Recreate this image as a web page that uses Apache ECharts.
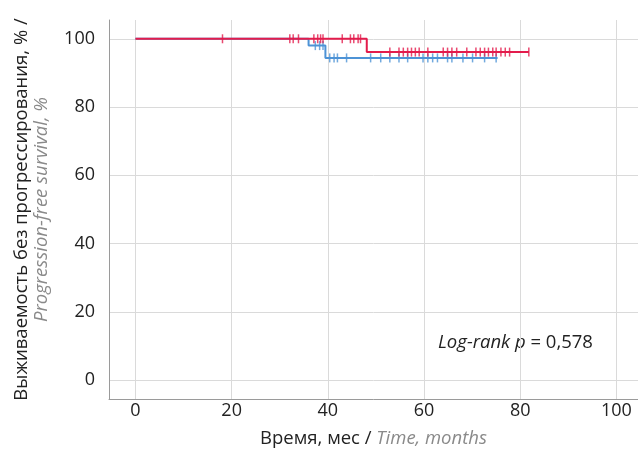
<!DOCTYPE html>
<html>
<head>
<meta charset="utf-8">
<script src="https://cdn.jsdelivr.net/npm/echarts@6/dist/echarts.min.js"></script>
<style>
  html, body { margin: 0; padding: 0; background: #fff; }
  #chart { width: 638px; height: 450px; }
</style>
</head>
<body>
<div id="chart"></div>
<script>
// KM curve, group 1 (red): step times and survival levels
const redTimes = [0, 48.1, 81.8];
const redSurv = [100, 96.1, 96.1];
const redCensored = [18.1, 32.1, 32.8, 33.9, 37.1, 37.9, 38.5, 39.0, 43.0, 44.7, 45.4, 46.3, 46.8,
  52.9, 54.8, 55.7, 56.6, 57.4, 58.2, 59.0, 60.8, 64.0, 64.9, 65.8, 66.8, 68.9, 70.8, 71.7,
  72.6, 73.4, 74.3, 75.0, 76.0, 76.9, 77.8, 81.8];

// KM curve, group 2 (blue)
const blueTimes = [0, 36.0, 39.5, 75.3];
const blueSurv = [100, 98.0, 94.4, 94.4];
const blueCensored = [37.4, 38.3, 39.0, 40.4, 41.3, 42.0, 43.9, 48.9, 51.0, 52.9, 54.8, 56.6,
  59.8, 60.8, 61.8, 62.8, 64.9, 65.8, 68.1, 70.1, 72.6, 75.0];

const xTicks = [0, 20, 40, 60, 80, 100];
const yTicks = [0, 20, 40, 60, 80, 100];

const RED = '#e31c4c';
const BLUE = '#4d93d6';
const GRID = '#dadada';

function curve(times, surv) {
  return times.map((t, i) => [t, surv[i]]);
}
// survival level at time t (for placing censor marks on the curve)
function levelAt(times, surv, t) {
  let v = surv[0];
  for (let i = 0; i < times.length; i++) {
    if (times[i] <= t) v = surv[i];
  }
  return v;
}
function marks(times, surv, cens) {
  return cens.map(t => [t, levelAt(times, surv, t)]);
}

const FONT = 'Open Sans';
let myChart = echarts.init(document.getElementById('chart'));
myChart.setOption({
  animation: false,
  textStyle: { fontFamily: FONT },
  grid: { left: 109, right: 0, top: 20, bottom: 51, containLabel: false, outerBoundsMode: 'none' },
  xAxis: {
    type: 'value',
    min: -5.5,
    max: 104.5,
    splitNumber: 5,
    name: '{a|Время, мес / }{b|Time, months}',
    nameLocation: 'middle',
    nameGap: 30,
    nameTextStyle: {
      rich: {
        a: { fontFamily: FONT, fontSize: 18.5, color: '#222' },
        b: { fontFamily: FONT, fontSize: 18.5, color: '#8a8a8a', fontStyle: 'italic' }
      }
    },
    axisLine: { onZero: false, lineStyle: { color: '#9a9a9a', width: 1 } },
    axisTick: { show: false },
    axisLabel: {
      color: '#222', fontSize: 18, margin: 3,
      formatter: v => (xTicks.indexOf(v) >= 0 ? String(v) : '')
    },
    splitLine: { show: true, lineStyle: { color: GRID, width: 1 } }
  },
  yAxis: {
    type: 'value',
    min: -5.5,
    max: 105.5,
    splitNumber: 5,
    name: '{a|Выживаемость без прогрессирования, % /}\n{b|Progression-free survival, %}',
    nameLocation: 'middle',
    nameRotate: 90,
    nameGap: 57,
    nameTextStyle: {
      lineHeight: 20,
      rich: {
        a: { fontFamily: FONT, fontSize: 18.5, color: '#222', lineHeight: 20 },
        b: { fontFamily: FONT, fontSize: 18.5, color: '#8a8a8a', fontStyle: 'italic', lineHeight: 20 }
      }
    },
    axisLine: { show: true, onZero: false, lineStyle: { color: '#9a9a9a', width: 1 } },
    axisTick: { show: false },
    axisLabel: {
      color: '#222', fontSize: 18, margin: 14,
      formatter: v => (yTicks.indexOf(v) >= 0 ? String(v) : '')
    },
    // last line (top edge of the plot) is left invisible
    splitLine: { show: true, lineStyle: { color: [GRID, GRID, GRID, GRID, GRID, GRID, GRID, 'rgba(0,0,0,0)'], width: 1 } }
  },
  graphic: [{
    type: 'text',
    left: 438,
    top: 333,
    style: {
      text: '{i|Log-rank p} = 0,578',
      fontFamily: FONT,
      fontSize: 18.5,
      fill: '#222',
      rich: { i: { fontFamily: FONT, fontSize: 18.5, fontStyle: 'italic', fill: '#222' } }
    }
  }],
  series: [
    {
      name: 'blue', type: 'line', step: 'end', showSymbol: false,
      data: curve(blueTimes, blueSurv),
      lineStyle: { color: BLUE, width: 2 }, z: 2
    },
    {
      name: 'blueCens', type: 'scatter', symbol: 'rect', symbolSize: [1.5, 9],
      data: marks(blueTimes, blueSurv, blueCensored),
      itemStyle: { color: BLUE }, z: 2
    },
    {
      name: 'red', type: 'line', step: 'end', showSymbol: false,
      data: curve(redTimes, redSurv),
      lineStyle: { color: RED, width: 2 }, z: 3
    },
    {
      name: 'redCens', type: 'scatter', symbol: 'rect', symbolSize: [1.5, 9],
      data: marks(redTimes, redSurv, redCensored),
      itemStyle: { color: RED }, z: 3
    }
  ]
});
</script>
</body>
</html>
